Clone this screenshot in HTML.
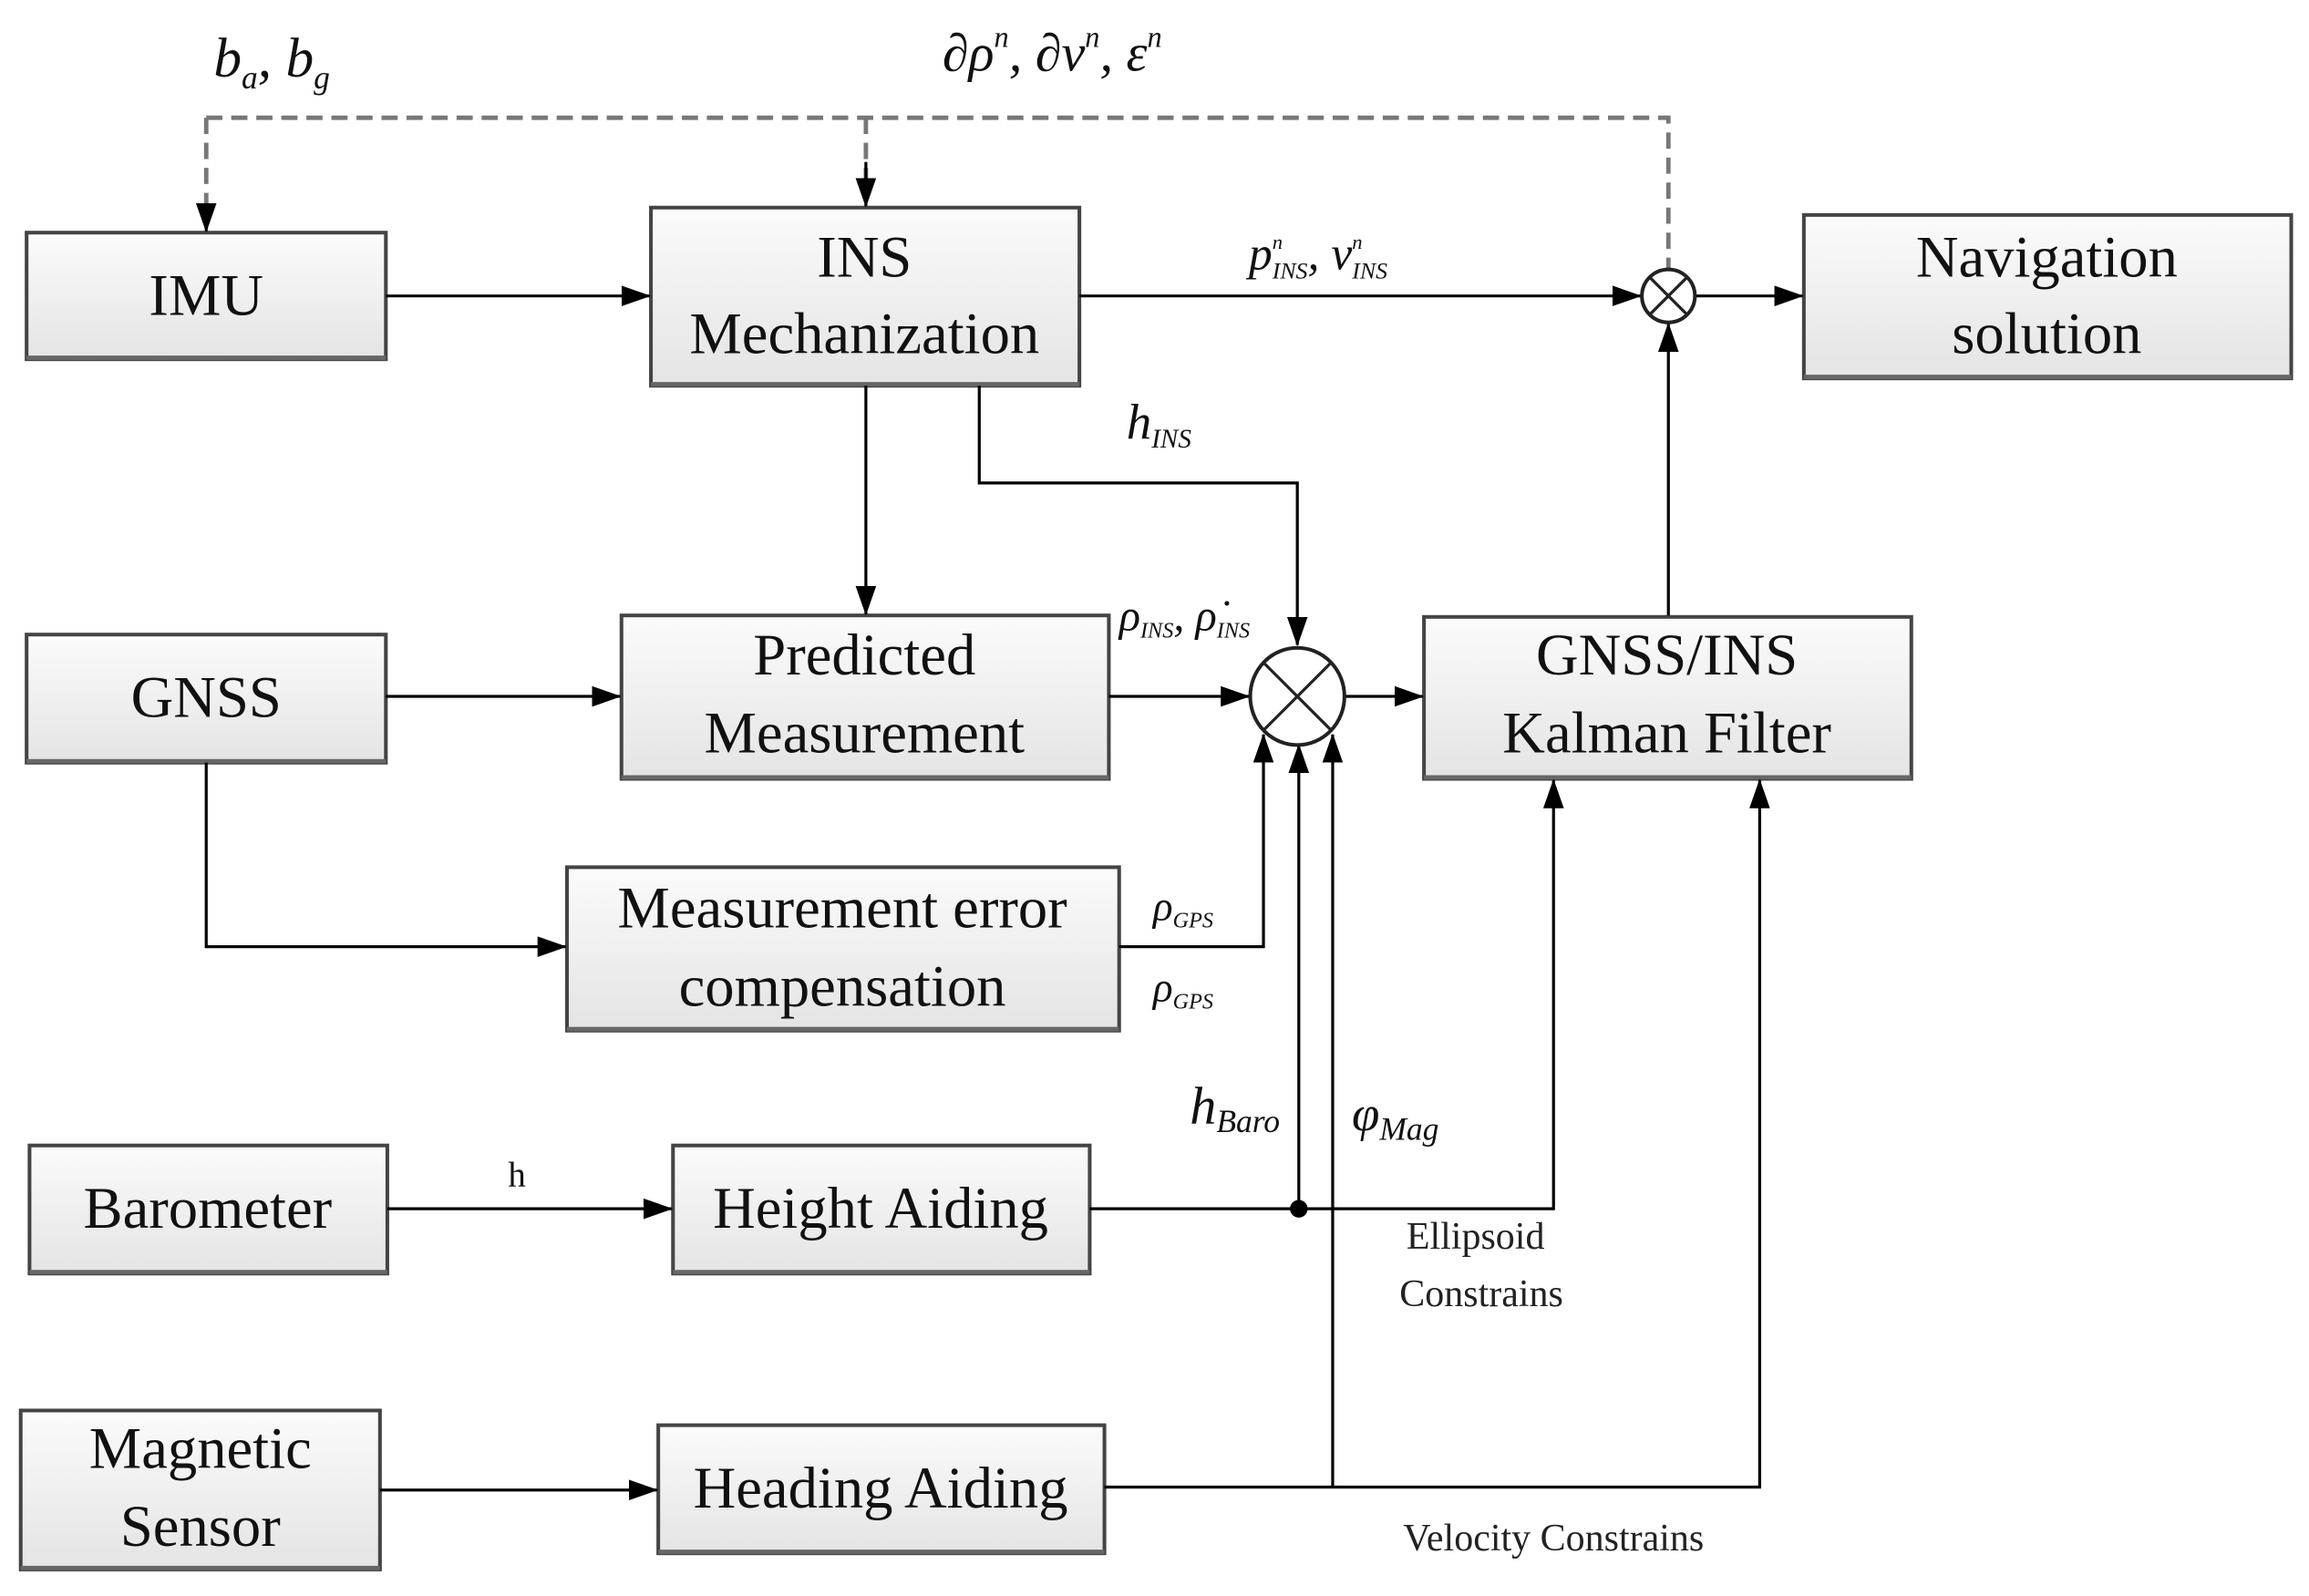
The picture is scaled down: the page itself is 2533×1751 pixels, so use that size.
<!DOCTYPE html>
<html><head><meta charset="utf-8"><style>html,body{margin:0;padding:0;background:#fff}svg{display:block}</style></head>
<body>
<svg width="2533" height="1751" viewBox="0 0 1568 1084" xmlns="http://www.w3.org/2000/svg">
<defs>
<linearGradient id="g" x1="0" y1="0" x2="0" y2="1"><stop offset="0" stop-color="#fbfbfb"/><stop offset="1" stop-color="#e4e4e4"/></linearGradient>
<marker id="b" markerWidth="20" markerHeight="14" refX="19" refY="7" orient="auto" markerUnits="userSpaceOnUse"><path d="M0,0 L20,7 L0,14 z" fill="#000"/></marker>
</defs>
<g fill="url(#g)" stroke="#444" stroke-width="2.5">
<rect x="18" y="158" width="244" height="86"/>
<rect x="442" y="141" width="291" height="121"/>
<rect x="1225" y="146" width="331" height="111"/>
<rect x="18" y="431" width="244" height="87"/>
<rect x="422" y="418" width="331" height="111"/>
<rect x="967" y="419" width="331" height="110"/>
<rect x="385" y="589" width="375" height="111"/>
<rect x="20" y="778" width="243" height="87"/>
<rect x="457" y="778" width="283" height="87"/>
<rect x="14" y="958" width="244" height="108"/>
<rect x="447" y="968" width="303" height="87"/>
</g>
<g stroke="#666" stroke-width="3">
<line x1="18" y1="243" x2="262" y2="243"/><line x1="442" y1="261" x2="733" y2="261"/><line x1="1225" y1="256" x2="1556" y2="256"/>
<line x1="18" y1="517" x2="262" y2="517"/><line x1="422" y1="528" x2="753" y2="528"/><line x1="967" y1="528" x2="1298" y2="528"/>
<line x1="385" y1="699" x2="760" y2="699"/><line x1="20" y1="864" x2="263" y2="864"/><line x1="457" y1="864" x2="740" y2="864"/>
<line x1="14" y1="1065" x2="258" y2="1065"/><line x1="447" y1="1054" x2="750" y2="1054"/>
</g>
<g font-family="Liberation Serif, serif" font-size="40" fill="#111" text-anchor="middle">
<text x="140" y="214">IMU</text>
<text x="587" y="188">INS</text><text x="587" y="240">Mechanization</text>
<text x="1390" y="188">Navigation</text><text x="1390" y="240">solution</text>
<text x="140" y="487">GNSS</text>
<text x="587" y="458">Predicted</text><text x="587" y="511">Measurement</text>
<text x="1132" y="458">GNSS/INS</text><text x="1132" y="511">Kalman Filter</text>
<text x="572" y="630">Measurement error</text><text x="572" y="683">compensation</text>
<text x="141" y="834">Barometer</text>
<text x="598" y="834">Height Aiding</text>
<text x="136" y="997">Magnetic</text><text x="136" y="1050">Sensor</text>
<text x="598" y="1024">Heading Aiding</text>
</g>
<g stroke="#777" stroke-width="3" fill="none" stroke-dasharray="11,6">
<path d="M140,80 H1133 V183"/><path d="M140,80 V150"/><path d="M588,80 V133"/>
</g>
<g stroke="#000" stroke-width="2" fill="none">
<line x1="140" y1="140" x2="140" y2="157" marker-end="url(#b)"/>
<line x1="588" y1="110" x2="588" y2="140" marker-end="url(#b)"/>
<line x1="262" y1="201" x2="441" y2="201" marker-end="url(#b)"/>
<line x1="733" y1="201" x2="1114" y2="201" marker-end="url(#b)"/>
<line x1="1151" y1="201" x2="1224" y2="201" marker-end="url(#b)"/>
<line x1="1133" y1="418" x2="1133" y2="220" marker-end="url(#b)"/>
<line x1="588" y1="262" x2="588" y2="417" marker-end="url(#b)"/>
<path d="M665,262 V328 H881 V438" marker-end="url(#b)"/>
<line x1="753" y1="473" x2="848" y2="473" marker-end="url(#b)"/>
<line x1="914" y1="473" x2="966" y2="473" marker-end="url(#b)"/>
<line x1="262" y1="473" x2="421" y2="473" marker-end="url(#b)"/>
<path d="M140,518 V643 H384" marker-end="url(#b)"/>
<path d="M760,643 H858 V499" marker-end="url(#b)"/>
<path d="M740,821 H1055 V530" marker-end="url(#b)"/>
<line x1="882" y1="821" x2="882" y2="506" marker-end="url(#b)"/>
<path d="M750,1010 H1195 V530" marker-end="url(#b)"/>
<line x1="905" y1="1010" x2="905" y2="499" marker-end="url(#b)"/>
<line x1="263" y1="821" x2="456" y2="821" marker-end="url(#b)"/>
<line x1="258" y1="1012" x2="446" y2="1012" marker-end="url(#b)"/>
</g>
<circle cx="882" cy="821" r="6" fill="#000"/>
<g stroke="#222" stroke-width="2.5" fill="#fff">
<circle cx="1133" cy="201" r="18"/>
<ellipse cx="881" cy="473" rx="32" ry="33"/>
</g>
<g stroke="#222" stroke-width="2">
<line x1="1120" y1="188" x2="1146" y2="214"/><line x1="1146" y1="188" x2="1120" y2="214"/>
<line x1="858" y1="450" x2="904" y2="496"/><line x1="904" y1="450" x2="858" y2="496"/>
</g>
<g font-family="Liberation Serif, serif" font-style="italic" fill="#111">
<text x="145" y="52" font-size="38">b<tspan font-size="22" dy="8">a</tspan><tspan dy="-8">, b</tspan><tspan font-size="22" dy="8">g</tspan></text>
<text x="640" y="48" font-size="36">∂ρ<tspan font-size="20" dy="-16">n</tspan><tspan dy="16">, ∂v</tspan><tspan font-size="20" dy="-16">n</tspan><tspan dy="16">, ε</tspan><tspan font-size="20" dy="-16">n</tspan></text>
<text x="848" y="183" font-size="32">p<tspan font-size="14" dy="-14">n</tspan><tspan font-size="16" dx="-7" dy="20">INS</tspan><tspan dy="-6">, v</tspan><tspan font-size="14" dy="-14">n</tspan><tspan font-size="16" dx="-7" dy="20">INS</tspan></text>
<text x="765" y="298" font-size="34">h<tspan font-size="18" dy="6">INS</tspan></text>
<text x="760" y="428" font-size="30">ρ<tspan font-size="15" dy="5">INS</tspan><tspan dy="-5">, ρ̇</tspan><tspan font-size="15" dy="5">INS</tspan></text>
<text x="783" y="625" font-size="28">ρ<tspan font-size="15" dy="5">GPS</tspan></text>
<text x="783" y="680" font-size="28">ρ<tspan font-size="15" dy="5">GPS</tspan></text>
<text x="808" y="763" font-size="36">h<tspan font-size="22" dy="6">Baro</tspan></text>
<text x="918" y="768" font-size="34">φ<tspan font-size="22" dy="6">Mag</tspan></text>
<text x="345" y="806" font-size="24" font-style="normal">h</text>
</g>
<g font-family="Liberation Serif, serif" font-size="26" fill="#222" text-anchor="middle">
<text x="1002" y="848">Ellipsoid</text><text x="1006" y="887">Constrains</text>
<text x="1055" y="1053">Velocity Constrains</text>
</g>
</svg>
</body></html>
